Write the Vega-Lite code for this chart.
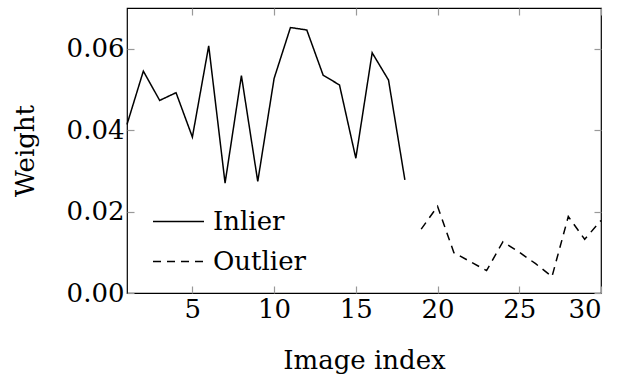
{
  "$schema": "https://vega.github.io/schema/vega-lite/v6.json",
  "width": 474,
  "height": 285,
  "autosize": "none",
  "padding": {"left": 127, "top": 8, "right": 23, "bottom": 92},
  "background": "white",
  "config": {
    "font": "DejaVu Serif",
    "view": {"stroke": "black", "strokeWidth": 1.2},
    "axis": {"grid": false, "domain": false, "ticks": true, "tickColor": "#999999", "tickSize": -7, "tickWidth": 1.2, "labelFont": "DejaVu Serif", "titleFont": "DejaVu Serif", "labelFontSize": 26, "titleFontSize": 26, "labelColor": "black", "titleColor": "black", "titleFontWeight": "normal"},
    "legend": {"labelFont": "DejaVu Serif"}
  },
  "data": {
    "values": [
      {"index": 1, "weight": 0.0414, "type": "Inlier"},
      {"index": 2, "weight": 0.0545, "type": "Inlier"},
      {"index": 3, "weight": 0.0473, "type": "Inlier"},
      {"index": 4, "weight": 0.0492, "type": "Inlier"},
      {"index": 5, "weight": 0.0383, "type": "Inlier"},
      {"index": 6, "weight": 0.0607, "type": "Inlier"},
      {"index": 7, "weight": 0.0270, "type": "Inlier"},
      {"index": 8, "weight": 0.0534, "type": "Inlier"},
      {"index": 9, "weight": 0.0274, "type": "Inlier"},
      {"index": 10, "weight": 0.0527, "type": "Inlier"},
      {"index": 11, "weight": 0.0652, "type": "Inlier"},
      {"index": 12, "weight": 0.0646, "type": "Inlier"},
      {"index": 13, "weight": 0.0535, "type": "Inlier"},
      {"index": 14, "weight": 0.0511, "type": "Inlier"},
      {"index": 15, "weight": 0.0331, "type": "Inlier"},
      {"index": 16, "weight": 0.0590, "type": "Inlier"},
      {"index": 17, "weight": 0.0523, "type": "Inlier"},
      {"index": 18, "weight": 0.0278, "type": "Inlier"},
      {"index": 19, "weight": 0.0157, "type": "Outlier"},
      {"index": 20, "weight": 0.0213, "type": "Outlier"},
      {"index": 21, "weight": 0.0099, "type": "Outlier"},
      {"index": 22, "weight": 0.0077, "type": "Outlier"},
      {"index": 23, "weight": 0.0055, "type": "Outlier"},
      {"index": 24, "weight": 0.0126, "type": "Outlier"},
      {"index": 25, "weight": 0.0100, "type": "Outlier"},
      {"index": 26, "weight": 0.0072, "type": "Outlier"},
      {"index": 27, "weight": 0.0040, "type": "Outlier"},
      {"index": 28, "weight": 0.0188, "type": "Outlier"},
      {"index": 29, "weight": 0.0132, "type": "Outlier"},
      {"index": 30, "weight": 0.0178, "type": "Outlier"}
    ]
  },
  "layer": [
    {
      "mark": {"type": "line", "opacity": 0},
      "encoding": {
        "x": {"field": "index", "type": "quantitative", "scale": {"domain": [1, 30], "nice": false, "zero": false},
          "axis": {"orient": "top", "values": [5, 10, 15, 20, 25, 30], "labels": false, "title": null}},
        "y": {"field": "weight", "type": "quantitative", "scale": {"domain": [0, 0.07], "nice": false},
          "axis": {"orient": "right", "values": [0, 0.02, 0.04, 0.06], "labels": false, "title": null}},
        "detail": {"field": "type"}
      }
    },
    {
      "mark": {"type": "line", "color": "black", "strokeWidth": 1.5},
      "encoding": {
        "x": {
          "field": "index", "type": "quantitative",
          "scale": {"domain": [1, 30], "nice": false, "zero": false},
          "axis": {"orient": "bottom", "values": [5, 10, 15, 20, 25, 30], "title": "Image index", "labelPadding": 10, "titlePadding": 25}
        },
        "y": {
          "field": "weight", "type": "quantitative",
          "scale": {"domain": [0, 0.07], "nice": false},
          "axis": {"orient": "left", "values": [0, 0.02, 0.04, 0.06], "format": ".2f", "title": "Weight", "labelPadding": 10, "titlePadding": 28}
        },
        "strokeDash": {
          "field": "type", "type": "nominal",
          "scale": {"domain": ["Inlier", "Outlier"], "range": [[1, 0], [8, 6]]},
          "legend": {
            "title": null, "orient": "none", "legendX": 25, "legendY": 187,
            "symbolType": "stroke", "symbolSize": 2600, "symbolStrokeWidth": 1.5, "symbolStrokeColor": "black",
            "labelFontSize": 26, "labelColor": "black", "labelOffset": 8, "rowPadding": -14, "padding": 0
          }
        }
      }
    }
  ],
  "resolve": {"axis": {"x": "independent", "y": "independent"}}
}
